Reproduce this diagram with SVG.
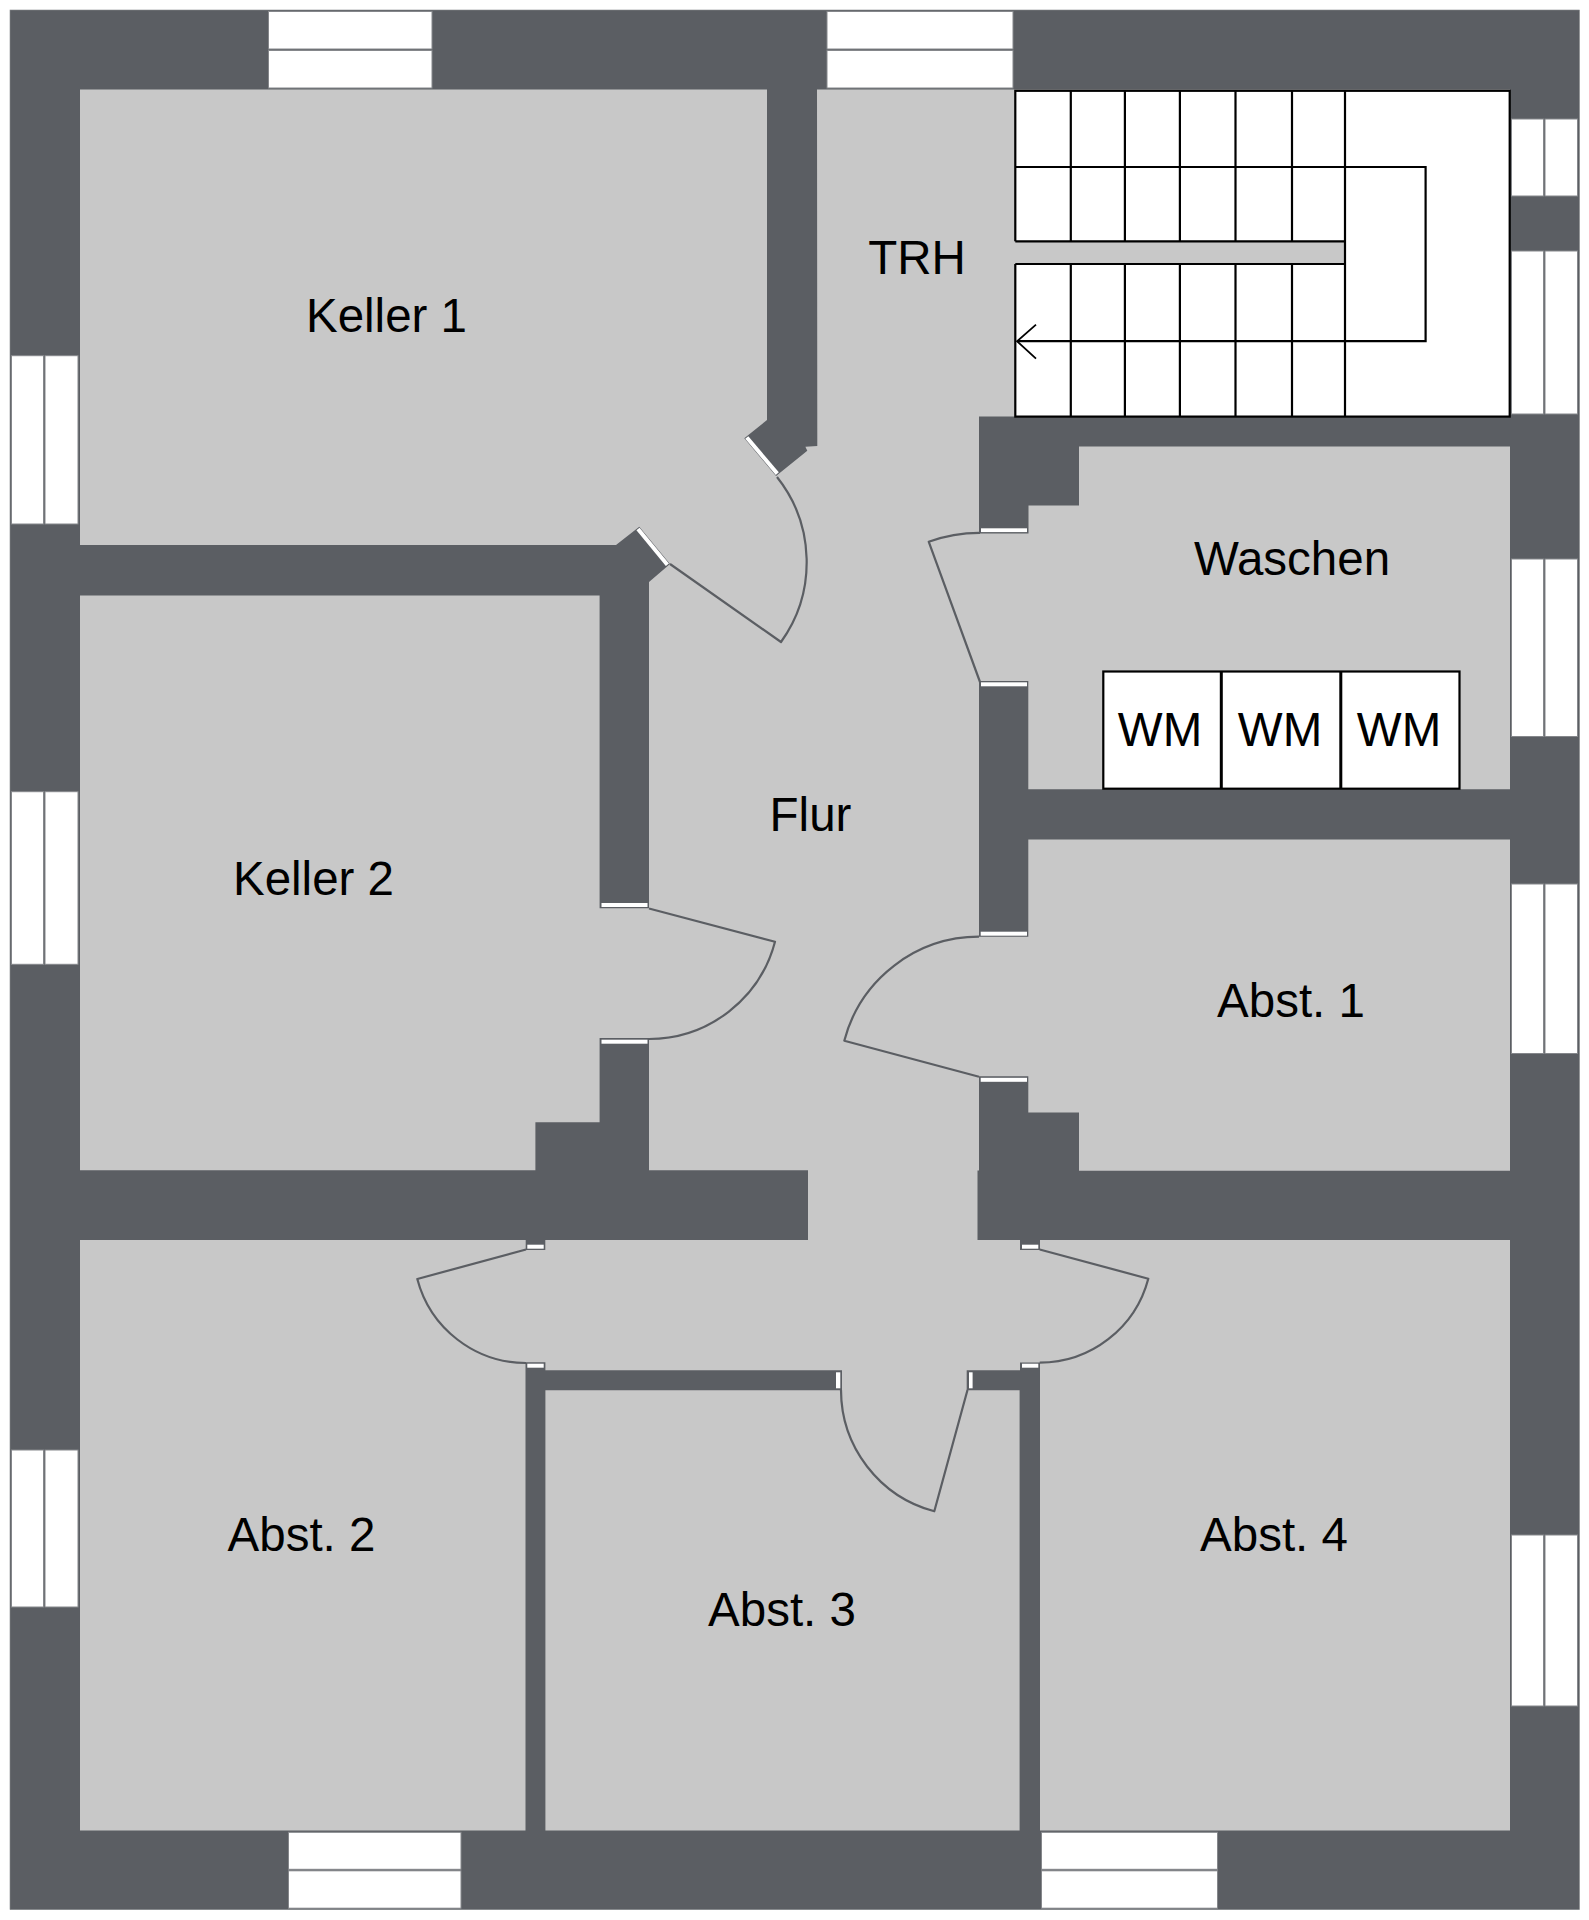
<svg xmlns="http://www.w3.org/2000/svg" width="1589" height="1920" viewBox="0 0 1589 1920">
<style>
.wall{fill:#5b5e63}
.floor{fill:#c8c8c8}
.win{fill:#fff;stroke:#85878b;stroke-width:1}
.stripe{fill:#fff}
.dstripe{stroke:#fff;stroke-width:4;fill:none}
.leaf{fill:none;stroke:#5b5e63;stroke-width:2.2;stroke-linejoin:round}
.stair{fill:none;stroke:#000;stroke-width:2.2}
.label{font-family:"Liberation Sans",Arial,sans-serif;font-size:47.5px;fill:#000;text-anchor:middle}
.wm{fill:#fff;stroke:#000;stroke-width:2.2}
.wmline{stroke:#000;stroke-width:3;fill:none}
</style>
<rect width="1589" height="1920" fill="#fff"/>
<rect id="outer-wall" x="10" y="10" width="1569.5" height="1899.7" class="wall" stroke="#85878b" stroke-width=".6"/>
<rect id="floor" x="80" y="89.5" width="1430" height="1741" class="floor"/>
<g id="walls">
<polygon class="wall" points="767,88 817,88 817.3,446 805.4,446.7 807.3,450.7 776,476 744.3,438.3 767,420"/>
<polygon class="wall" points="79,545 616,545 639.3,526.7 670,564 649,582 649,908.3 599.6,908.3 599.6,595.4 79,595.4"/>
<polygon class="wall" points="599.6,1038 649,1038 649,1170.3 808,1170.3 808,1240 79,1240 79,1170.3 535.4,1170.3 535.4,1122.3 599.6,1122.3"/>
<polygon class="wall" points="979,416.5 1511,416.5 1511,446.5 1079,446.5 1079,505.4 1028.5,505.4 1028.5,533.5 979,533.5"/>
<polygon class="wall" points="979,681 1028.3,681 1028.3,789.3 1511,789.3 1511,839.6 1028.3,839.6 1028.3,936.8 979,936.8"/>
<polygon class="wall" points="979,1076.2 1028.3,1076.2 1028.3,1112.5 1079,1112.5 1079,1170.7 1511,1170.7 1511,1240 1040,1240 1040,1250 1020,1250 1020,1240 977.5,1240 977.5,1170.5 979,1170.5"/>
<polygon class="wall" points="525.7,1239 545.3,1239 545.3,1250 525.7,1250"/>
<polygon class="wall" points="525.5,1362.3 545.4,1362.3 545.4,1370.3 842,1370.3 842,1390.3 545.4,1390.3 545.4,1831 525.5,1831"/>
<polygon class="wall" points="966.7,1370.3 1020,1370.3 1020,1362.5 1040,1362.5 1040,1831 1019.6,1831 1019.6,1390.3 966.7,1390.3"/>
</g>
<g id="windows">
<rect class="win" x="268.5" y="11.5" width="163.5" height="37.5"/><rect class="win" x="268.5" y="50.5" width="163.5" height="37.5"/>
<rect class="win" x="827" y="11.5" width="186" height="37.5"/><rect class="win" x="827" y="50.5" width="186" height="37.5"/>
<rect class="win" x="288.5" y="1832.3" width="172.5" height="37"/><rect class="win" x="288.5" y="1870.8" width="172.5" height="37.4"/>
<rect class="win" x="1041.5" y="1832.3" width="176" height="37"/><rect class="win" x="1041.5" y="1870.8" width="176" height="37.4"/>
<rect class="win" x="11.5" y="355.7" width="32" height="168.3"/><rect class="win" x="45" y="355.7" width="33" height="168.3"/>
<rect class="win" x="11.5" y="791.7" width="32" height="172.6"/><rect class="win" x="45" y="791.7" width="33" height="172.6"/>
<rect class="win" x="11.5" y="1450" width="32" height="157"/><rect class="win" x="45" y="1450" width="33" height="157"/>
<rect class="win" x="1511.5" y="119" width="32" height="77"/><rect class="win" x="1545" y="119" width="32.5" height="77"/>
<rect class="win" x="1511.5" y="251" width="32" height="163"/><rect class="win" x="1545" y="251" width="32.5" height="163"/>
<rect class="win" x="1511.5" y="559" width="32" height="177.5"/><rect class="win" x="1545" y="559" width="32.5" height="177.5"/>
<rect class="win" x="1511.5" y="884" width="32" height="169.5"/><rect class="win" x="1545" y="884" width="32.5" height="169.5"/>
<rect class="win" x="1511.5" y="1535" width="32" height="171"/><rect class="win" x="1545" y="1535" width="32.5" height="171"/>
</g>
<g id="stairs">
<rect x="1015.3" y="90.8" width="494.4" height="325.8" fill="#fff" stroke="#000" stroke-width="2.2"/>
<rect x="1014" y="241.3" width="331" height="22.7" class="floor"/>
<path class="stair" d="M1015.3 241.3H1345M1015.3 264H1345M1070.8 90.8V241.3M1124.9 90.8V241.3M1179.9 90.8V241.3M1235.5 90.8V241.3M1292 90.8V241.3M1070.8 264V416.6M1124.9 264V416.6M1179.9 264V416.6M1235.5 264V416.6M1292 264V416.6M1345 90.8V416.6M1015.3 167H1425.6V341.2H1017"/>
<path d="M1036 324.6L1017 341.2L1036 358.6" fill="none" stroke="#000" stroke-width="1.8"/>
</g>
<g id="door-jambs">
<rect class="stripe" x="601.5" y="903" width="46" height="4"/>
<rect class="stripe" x="601.5" y="1039.7" width="46" height="4"/>
<rect class="stripe" x="980.7" y="931.7" width="46.3" height="4"/>
<rect class="stripe" x="980.7" y="1077.8" width="46.3" height="4"/>
<rect class="stripe" x="981" y="528.3" width="46" height="3.8"/>
<rect class="stripe" x="981" y="682.3" width="46" height="4"/>
<rect class="stripe" x="527.3" y="1244.7" width="16.4" height="4"/>
<rect class="stripe" x="527.3" y="1363.7" width="16.4" height="4"/>
<rect class="stripe" x="1022" y="1244.7" width="16.3" height="4"/>
<rect class="stripe" x="1022" y="1363.7" width="16.3" height="4"/>
<rect class="stripe" x="836" y="1372.3" width="4.3" height="16"/>
<rect class="stripe" x="969" y="1372.3" width="3.6" height="16"/>
<line class="dstripe" x1="746.8" y1="437.5" x2="777.3" y2="473.6"/>
<line class="dstripe" x1="638" y1="529.1" x2="667.4" y2="564.8"/>
</g>
<g id="door-swings">
<path class="leaf" d="M670 564L781 642A137 137 0 0 0 777 477"/>
<path class="leaf" d="M980 682L928.7 541.7A149 149 0 0 1 980 532.8"/>
<path class="leaf" d="M649 908.5L775 941.7A130.4 130.4 0 0 1 649 1039"/>
<path class="leaf" d="M979 1076.7L844.3 1040.7A139.4 139.4 0 0 1 979 936.7"/>
<path class="leaf" d="M526 1249.5L417.3 1279A112.6 112.6 0 0 0 526 1363"/>
<path class="leaf" d="M1039.7 1249.5L1148.3 1278.7A112.6 112.6 0 0 1 1039.7 1362.7"/>
<path class="leaf" d="M967.5 1390L934.3 1511.3A125.8 125.8 0 0 1 841 1390"/>
</g>
<g id="washing-machines">
<rect class="wm" x="1103.3" y="671.5" width="356.2" height="117.2"/>
<path class="wmline" d="M1221.3 671.5V788.7M1340.8 671.5V788.7"/>
<text class="label" x="1160" y="745.5">WM</text>
<text class="label" x="1280" y="745.5">WM</text>
<text class="label" x="1399" y="745.5">WM</text>
</g>
<g id="room-labels">
<text class="label" x="386.5" y="331.7">Keller 1</text>
<text class="label" x="917" y="274">TRH</text>
<text class="label" x="1292" y="575">Waschen</text>
<text class="label" x="810.5" y="831">Flur</text>
<text class="label" x="313.5" y="895">Keller 2</text>
<text class="label" x="1291" y="1017">Abst. 1</text>
<text class="label" x="301.5" y="1551">Abst. 2</text>
<text class="label" x="782" y="1626">Abst. 3</text>
<text class="label" x="1274" y="1551">Abst. 4</text>
</g>
</svg>
